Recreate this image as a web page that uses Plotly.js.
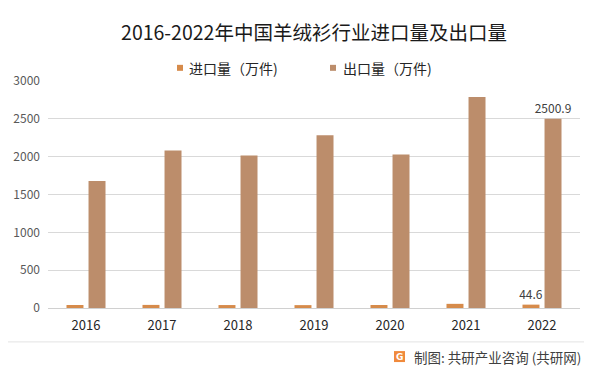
<!DOCTYPE html>
<html>
<head>
<meta charset="utf-8">
<script src="https://cdn.plot.ly/plotly-3.0.1.min.js"></script>
<style>
html,body{margin:0;padding:0;background:#fff;}
#chart{width:597px;height:375px;}
</style>
</head>
<body>
<div id="chart"></div>
<script>
// ---- data ----
const years = ['2016', '2017', '2018', '2019', '2020', '2021', '2022'];
const importVals = [40, 41, 39, 38, 40, 55, 44.6];
const exportVals = [1678, 2083, 2015, 2284, 2028, 2790, 2500.9];
const importLabels = ['', '', '', '', '', '', '44.6'];
const exportLabels = ['', '', '', '', '', '', '2500.9'];
const seriesNames = ['进口量（万件)', '出口量（万件)'];
const chartTitle = '2016-2022年中国羊绒衫行业进口量及出口量';
const sourceText = '制图: 共研产业咨询 (共研网)';

const FONT = '"Noto Sans CJK SC", "Noto Sans", sans-serif';
const colImport = '#D68B4B';
const colExport = '#BC8D6B';

// plot area in pixels
const L = 48, R = 580, T = 80.7, B = 308.3, W = 597, H = 375;
const px = x => (x - L) / (R - L);
const py = y => (B - y) / (B - T);

const labelFont = {family: FONT, size: 12, color: '#404040'};

const traces = [
  {
    type: 'bar', name: seriesNames[0], x: years, y: importVals,
    marker: {color: colImport}, text: importLabels, textposition: 'outside',
    textfont: labelFont, constraintext: 'none', cliponaxis: false,
    hoverinfo: 'x+y', showlegend: false
  },
  {
    type: 'bar', name: seriesNames[1], x: years, y: exportVals,
    marker: {color: colExport}, text: exportLabels, textposition: 'outside',
    textfont: labelFont, constraintext: 'none', cliponaxis: false,
    hoverinfo: 'x+y', showlegend: false
  }
];

const shapes = [
  // legend squares
  {type: 'rect', xref: 'paper', yref: 'paper', x0: px(177), x1: px(183), y0: py(64.5), y1: py(70.5), fillcolor: colImport, line: {width: 0}},
  {type: 'rect', xref: 'paper', yref: 'paper', x0: px(330), x1: px(336), y0: py(64.5), y1: py(70.5), fillcolor: colExport, line: {width: 0}},
  // footer separator
  {type: 'line', xref: 'paper', yref: 'paper', x0: px(8), x1: px(584), y0: py(342.3), y1: py(342.3), line: {color: '#e3e3e3', width: 1}},
  // logo
  {type: 'rect', xref: 'paper', yref: 'paper', x0: px(394), x1: px(405), y0: py(351.5), y1: py(362.5), fillcolor: '#F08A3C', line: {width: 0}}
];

const annotations = [
  {xref: 'paper', yref: 'paper', x: px(187), y: py(67.5), xanchor: 'left', yanchor: 'middle', showarrow: false,
   text: seriesNames[0], font: {family: FONT, size: 14, color: '#262626'}},
  {xref: 'paper', yref: 'paper', x: px(341), y: py(67.5), xanchor: 'left', yanchor: 'middle', showarrow: false,
   text: seriesNames[1], font: {family: FONT, size: 14, color: '#262626'}},
  {xref: 'paper', yref: 'paper', x: px(399.5), y: py(357), xanchor: 'center', yanchor: 'middle', showarrow: false,
   text: '<b>G</b>', font: {family: 'DejaVu Sans', size: 9, color: '#ffffff'}},
  {xref: 'paper', yref: 'paper', x: px(583), y: py(357), xanchor: 'right', yanchor: 'middle', showarrow: false,
   text: sourceText, font: {family: FONT, size: 13.5, color: '#404040'}}
];

const layout = {
  width: W, height: H,
  margin: {l: L, r: W - R, t: T, b: H - B, pad: 0},
  paper_bgcolor: '#ffffff', plot_bgcolor: '#ffffff',
  title: {text: chartTitle, x: 0.5, xref: 'paper', xanchor: 'center', y: 1 - 33.3 / H, yanchor: 'middle',
          font: {family: FONT, size: 19.5, color: '#1a1a1a'}},
  barmode: 'group', bargap: 0.42, bargroupgap: 0.23,
  showlegend: false,
  uniformtext: {mode: false},
  xaxis: {
    type: 'category', showgrid: false, zeroline: false, showline: false, ticks: '',
    tickfont: {family: FONT, size: 13, color: '#262626'}, ticklabelstandoff: 8, fixedrange: true
  },
  yaxis: {
    range: [0, 3000], dtick: 500, tick0: 0, showgrid: true, gridcolor: '#d9d9d9', gridwidth: 1,
    zeroline: true, zerolinecolor: '#d0d0d0', zerolinewidth: 1, showline: false, ticks: '',
    tickfont: {family: FONT, size: 12, color: '#595959'}, ticklabelstandoff: 7, fixedrange: true
  },
  shapes: shapes,
  annotations: annotations
};

Plotly.newPlot('chart', traces, layout, {displayModeBar: false, staticPlot: true});
</script>
</body>
</html>
